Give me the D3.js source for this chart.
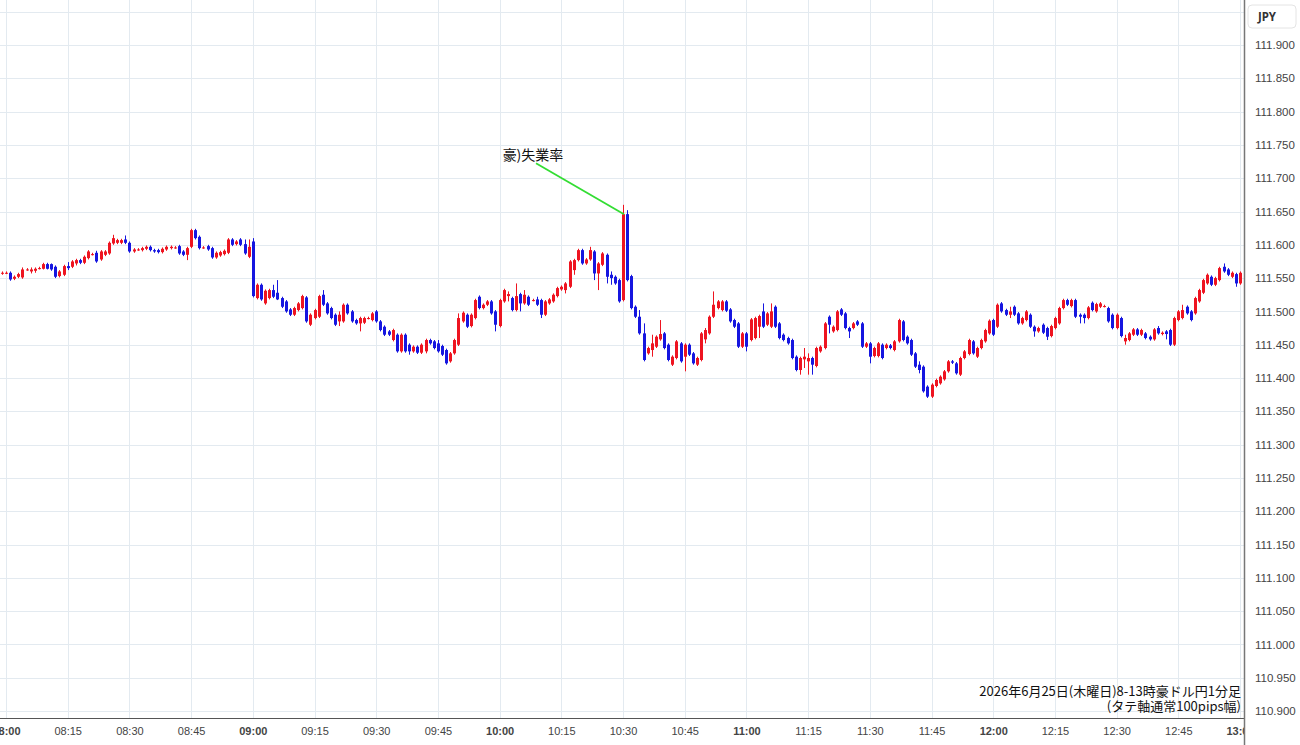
<!DOCTYPE html>
<html>
<head>
<meta charset="utf-8">
<script src="https://cdn.jsdelivr.net/npm/d3@7"></script>
<style>
  body { margin: 0; background: #fff; }
  svg { display: block; font-family: "Noto Sans", "Noto Sans CJK JP", sans-serif; }
</style>
</head>
<body>
<script>
// AUD/JPY 1-minute candles, 2026-06-25 07:59 .. 13:00
const firstCandle = "2026-06-25 07:59";

const open = [
  111.557,111.558,111.558,111.549,111.552,111.551,111.563,111.560,111.561,111.565,
  111.564,111.571,111.571,111.567,111.553,111.555,111.568,111.567,111.572,111.577,
  111.573,111.580,111.586,111.588,111.578,111.585,111.587,111.602,111.603,111.603,
  111.608,111.603,111.590,111.593,111.592,111.594,111.597,111.592,111.592,111.589,
  111.593,111.595,111.596,111.598,111.590,111.585,111.597,111.622,111.612,111.596,
  111.598,111.595,111.581,111.584,111.586,111.588,111.608,111.601,111.608,111.601,
  111.582,111.605,111.520,111.540,111.512,111.520,111.532,111.528,111.520,111.515,
  111.503,111.495,111.502,111.505,111.521,111.480,111.490,111.492,111.525,111.512,
  111.505,111.495,111.485,111.485,111.510,111.500,111.487,111.482,111.483,111.490,
  111.487,111.500,111.485,111.477,111.470,111.457,111.465,111.440,111.465,111.450,
  111.440,111.447,111.438,111.440,111.457,111.455,111.452,111.448,111.442,111.425,
  111.437,111.450,111.485,111.495,111.478,111.490,111.522,111.505,111.510,111.515,
  111.500,111.478,111.515,111.523,111.520,111.502,111.526,111.512,111.522,111.517,
  111.518,111.517,111.495,111.512,111.515,111.523,111.533,111.532,111.537,111.562,
  111.577,111.592,111.572,111.578,111.590,111.557,111.570,111.585,111.555,111.552,
  111.547,111.517,111.646,111.553,111.507,111.492,111.467,111.437,111.442,111.447,
  111.458,111.467,111.450,111.420,111.430,111.452,111.432,111.450,111.437,111.420,
  111.427,111.458,111.467,111.492,111.505,111.502,111.515,111.503,111.487,111.482,
  111.447,111.467,111.457,111.460,111.477,111.500,111.480,111.477,111.507,111.482,
  111.465,111.460,111.457,111.432,111.412,111.428,111.425,111.430,111.418,111.440,
  111.445,111.492,111.470,111.472,111.503,111.497,111.475,111.475,111.485,111.482,
  111.447,111.452,111.433,111.433,111.450,111.445,111.449,111.442,111.455,111.485,
  111.462,111.457,111.437,111.420,111.417,111.387,111.372,111.388,111.392,111.398,
  111.410,111.425,111.422,111.405,111.430,111.436,111.455,111.432,111.445,111.455,
  111.467,111.487,111.477,111.512,111.502,111.495,111.507,111.497,111.482,111.487,
  111.495,111.477,111.470,111.480,111.475,111.463,111.475,111.482,111.505,111.517,
  111.508,111.517,111.495,111.495,111.490,111.513,111.500,111.507,111.508,111.505,
  111.495,111.475,111.490,111.455,111.457,111.465,111.473,111.465,111.467,111.462,
  111.458,111.475,111.466,111.470,111.472,111.450,111.487,111.490,111.507,111.500,
  111.497,111.515,111.528,111.542,111.552,111.540,111.547,111.567,111.563,111.552,
  111.556,111.542
];

const high = [
  111.560,111.560,111.560,111.554,111.558,111.566,111.565,111.566,111.566,111.567,
  111.573,111.573,111.572,111.569,111.562,111.570,111.574,111.577,111.579,111.579,
  111.584,111.592,111.588,111.591,111.592,111.592,111.605,111.615,111.609,111.609,
  111.614,111.605,111.595,111.595,111.597,111.599,111.599,111.594,111.594,111.596,
  111.599,111.599,111.598,111.600,111.592,111.597,111.624,111.624,111.614,111.598,
  111.600,111.597,111.590,111.591,111.593,111.610,111.610,111.607,111.610,111.608,
  111.608,111.610,111.542,111.542,111.533,111.534,111.540,111.547,111.522,111.517,
  111.505,111.507,111.514,111.525,111.523,111.497,111.504,111.525,111.532,111.514,
  111.507,111.497,111.500,111.512,111.512,111.502,111.489,111.492,111.492,111.492,
  111.499,111.502,111.487,111.479,111.472,111.474,111.467,111.467,111.467,111.452,
  111.449,111.449,111.452,111.459,111.459,111.457,111.457,111.450,111.444,111.439,
  111.459,111.497,111.500,111.497,111.497,111.519,111.524,111.512,111.517,111.517,
  111.502,111.519,111.534,111.530,111.522,111.542,111.528,111.532,111.524,111.519,
  111.522,111.519,111.517,111.520,111.527,111.537,111.539,111.544,111.577,111.579,
  111.594,111.594,111.580,111.597,111.592,111.574,111.589,111.587,111.560,111.554,
  111.549,111.660,111.652,111.555,111.509,111.502,111.482,111.447,111.465,111.464,
  111.487,111.469,111.452,111.434,111.457,111.454,111.452,111.452,111.439,111.432,
  111.469,111.475,111.494,111.530,111.517,111.517,111.517,111.505,111.489,111.484,
  111.469,111.469,111.490,111.492,111.495,111.512,111.499,111.512,111.509,111.484,
  111.467,111.462,111.459,111.434,111.432,111.445,111.437,111.432,111.447,111.449,
  111.484,111.494,111.479,111.502,111.505,111.499,111.477,111.484,111.487,111.484,
  111.454,111.454,111.447,111.454,111.452,111.452,111.451,111.457,111.489,111.487,
  111.464,111.459,111.439,111.425,111.419,111.389,111.392,111.399,111.404,111.412,
  111.427,111.427,111.424,111.432,111.442,111.459,111.457,111.447,111.459,111.474,
  111.488,111.489,111.512,111.514,111.504,111.507,111.509,111.499,111.492,111.502,
  111.497,111.479,111.477,111.482,111.477,111.480,111.492,111.507,111.519,111.519,
  111.519,111.519,111.497,111.497,111.508,111.515,111.513,111.514,111.510,111.507,
  111.497,111.497,111.492,111.465,111.469,111.475,111.475,111.474,111.469,111.464,
  111.475,111.478,111.470,111.472,111.474,111.492,111.502,111.510,111.509,111.502,
  111.522,111.534,111.549,111.557,111.554,111.552,111.567,111.572,111.565,111.560,
  111.558,111.560
];

const low = [
  111.555,111.556,111.546,111.547,111.550,111.549,111.561,111.557,111.558,111.563,
  111.563,111.563,111.561,111.550,111.551,111.553,111.562,111.565,111.569,111.571,
  111.571,111.578,111.584,111.573,111.576,111.583,111.585,111.600,111.601,111.601,
  111.601,111.588,111.588,111.591,111.590,111.592,111.590,111.588,111.587,111.587,
  111.591,111.593,111.594,111.585,111.583,111.577,111.595,111.608,111.593,111.594,
  111.591,111.579,111.579,111.582,111.584,111.586,111.598,111.599,111.598,111.585,
  111.580,111.521,111.518,111.516,111.510,111.518,111.520,111.517,111.505,111.498,
  111.493,111.493,111.500,111.503,111.483,111.478,111.488,111.490,111.508,111.495,
  111.488,111.478,111.478,111.483,111.495,111.483,111.480,111.470,111.481,111.488,
  111.485,111.483,111.470,111.463,111.463,111.455,111.438,111.438,111.438,111.435,
  111.438,111.436,111.436,111.437,111.450,111.443,111.438,111.433,111.420,111.423,
  111.435,111.448,111.483,111.475,111.476,111.488,111.503,111.503,111.508,111.495,
  111.470,111.476,111.513,111.515,111.500,111.500,111.500,111.510,111.508,111.515,
  111.508,111.490,111.493,111.510,111.513,111.521,111.531,111.527,111.535,111.555,
  111.575,111.570,111.570,111.576,111.547,111.532,111.568,111.542,111.540,111.540,
  111.513,111.515,111.545,111.503,111.490,111.465,111.425,111.435,111.432,111.445,
  111.456,111.443,111.425,111.418,111.428,111.423,111.410,111.433,111.420,111.418,
  111.425,111.452,111.465,111.490,111.503,111.500,111.499,111.483,111.475,111.445,
  111.445,111.440,111.455,111.458,111.460,111.475,111.478,111.475,111.475,111.458,
  111.455,111.450,111.428,111.410,111.405,111.415,111.405,111.405,111.416,111.438,
  111.443,111.467,111.468,111.470,111.493,111.473,111.460,111.473,111.478,111.445,
  111.445,111.422,111.431,111.431,111.428,111.443,111.443,111.440,111.453,111.455,
  111.450,111.433,111.415,111.407,111.378,111.370,111.370,111.386,111.390,111.396,
  111.408,111.421,111.405,111.403,111.428,111.434,111.435,111.430,111.443,111.453,
  111.465,111.463,111.475,111.498,111.493,111.490,111.493,111.480,111.480,111.485,
  111.475,111.462,111.468,111.466,111.457,111.461,111.473,111.480,111.503,111.508,
  111.506,111.490,111.482,111.482,111.488,111.500,111.498,111.505,111.506,111.483,
  111.473,111.473,111.461,111.450,111.455,111.463,111.463,111.463,111.458,111.456,
  111.456,111.465,111.464,111.458,111.448,111.448,111.485,111.488,111.495,111.485,
  111.495,111.513,111.526,111.540,111.538,111.538,111.545,111.558,111.553,111.550,
  111.537,111.540
];

const close = [
  111.558,111.558,111.548,111.552,111.556,111.563,111.563,111.563,111.564,111.565,
  111.571,111.564,111.563,111.552,111.560,111.568,111.565,111.575,111.577,111.573,
  111.582,111.590,111.586,111.575,111.590,111.590,111.603,111.610,111.607,111.607,
  111.603,111.590,111.593,111.593,111.595,111.597,111.592,111.590,111.589,111.594,
  111.597,111.597,111.596,111.587,111.585,111.595,111.622,111.610,111.595,111.596,
  111.593,111.581,111.588,111.589,111.591,111.608,111.600,111.605,111.600,111.587,
  111.597,111.523,111.540,111.518,111.531,111.532,111.522,111.518,111.507,111.500,
  111.495,111.505,111.512,111.523,111.485,111.495,111.502,111.523,111.510,111.497,
  111.490,111.480,111.495,111.510,111.497,111.485,111.482,111.490,111.490,111.490,
  111.497,111.485,111.472,111.465,111.465,111.472,111.440,111.465,111.440,111.440,
  111.447,111.438,111.450,111.457,111.452,111.445,111.440,111.435,111.422,111.437,
  111.457,111.490,111.498,111.477,111.495,111.517,111.505,111.510,111.515,111.497,
  111.480,111.517,111.532,111.526,111.502,111.523,111.512,111.525,111.510,111.517,
  111.510,111.495,111.515,111.518,111.525,111.535,111.537,111.542,111.575,111.577,
  111.592,111.572,111.578,111.592,111.557,111.572,111.587,111.552,111.550,111.542,
  111.515,111.646,111.547,111.505,111.492,111.467,111.427,111.445,111.452,111.462,
  111.466,111.445,111.427,111.432,111.455,111.425,111.450,111.435,111.422,111.430,
  111.467,111.472,111.492,111.510,111.515,111.515,111.501,111.485,111.477,111.447,
  111.467,111.447,111.488,111.490,111.493,111.477,111.497,111.500,111.477,111.460,
  111.457,111.452,111.430,111.412,111.430,111.432,111.430,111.420,111.445,111.447,
  111.482,111.480,111.477,111.500,111.495,111.475,111.470,111.482,111.480,111.447,
  111.452,111.432,111.445,111.452,111.430,111.450,111.445,111.455,111.487,111.457,
  111.452,111.435,111.417,111.412,111.380,111.372,111.390,111.397,111.402,111.410,
  111.425,111.423,111.407,111.430,111.440,111.457,111.437,111.445,111.457,111.472,
  111.486,111.465,111.510,111.500,111.495,111.500,111.495,111.482,111.490,111.500,
  111.477,111.470,111.475,111.468,111.462,111.478,111.490,111.505,111.517,111.510,
  111.517,111.492,111.492,111.490,111.506,111.502,111.511,111.512,111.508,111.485,
  111.475,111.495,111.463,111.460,111.467,111.473,111.465,111.472,111.460,111.458,
  111.473,111.467,111.468,111.466,111.450,111.490,111.500,111.502,111.497,111.487,
  111.520,111.532,111.547,111.555,111.540,111.550,111.565,111.560,111.555,111.558,
  111.542,111.558
];

const timeTicks = ["08:00","08:15","08:30","08:45","09:00","09:15","09:30","09:45","10:00",
  "10:15","10:30","10:45","11:00","11:15","11:30","11:45","12:00","12:15","12:30","12:45","13:00"];
const priceTicks = [111.9,111.85,111.8,111.75,111.7,111.65,111.6,111.55,111.5,111.45,
  111.4,111.35,111.3,111.25,111.2,111.15,111.1,111.05,111.0,110.95,110.9];
const gridPrices = [111.95].concat(priceTicks);

const events = [{time: "10:30", label: "豪)失業率"}];
const titleLines = ["2026年6月25日(木曜日)8-13時豪ドル円1分足", "(タテ軸通常100pips幅)"];
const currency = "JPY";

const Width = 1300;
const Height = 745;
const plotRight = 1244;
const axisY = 718;

const upColor = "#ee1420";
const downColor = "#1616e0";
const gridColor = "#e3eaf0";

const parseTime = d3.timeParse("%Y-%m-%d %H:%M");
const day = s => parseTime("2026-06-25 " + s);
const t0 = parseTime(firstCandle);

const candles = open.map((o, i) => ({
  t: d3.timeMinute.offset(t0, i),
  o: o, h: high[i], l: low[i], c: close[i]
}));

const xScale = d3.scaleTime()
  .domain([day("08:00"), day("13:00")])
  .range([6, 1240]);

const yScale = d3.scaleLinear()
  .domain([110.9, 111.9])
  .range([711, 45]);

const svg = d3.select("body").append("svg")
  .attr("width", Width)
  .attr("height", Height);

svg.append("rect").attr("width", Width).attr("height", Height).attr("fill", "#fff");

const defs = svg.append("defs");
defs.append("clipPath").attr("id", "plotClip")
  .append("rect").attr("x", 0).attr("y", 0).attr("width", plotRight).attr("height", axisY);
defs.append("clipPath").attr("id", "xClip")
  .append("rect").attr("x", 0).attr("y", axisY).attr("width", plotRight).attr("height", Height - axisY);

const plot = svg.append("g").attr("clip-path", "url(#plotClip)");

// grid
plot.selectAll("line.hgrid")
  .data(gridPrices)
  .join("line")
    .attr("class", "hgrid")
    .attr("x1", 0).attr("x2", plotRight)
    .attr("y1", d => Math.round(yScale(d)) + 0.5)
    .attr("y2", d => Math.round(yScale(d)) + 0.5)
    .attr("stroke", gridColor);

plot.selectAll("line.vgrid")
  .data(timeTicks)
  .join("line")
    .attr("class", "vgrid")
    .attr("y1", 0).attr("y2", axisY)
    .attr("x1", d => Math.round(xScale(day(d))) + 0.5)
    .attr("x2", d => Math.round(xScale(day(d))) + 0.5)
    .attr("stroke", gridColor);

// candles
const colorOf = d => d.c >= d.o ? upColor : downColor;
const cx = d => Math.round(xScale(d.t));

plot.selectAll("line.wick")
  .data(candles)
  .join("line")
    .attr("class", "wick")
    .attr("x1", d => cx(d) + 0.5)
    .attr("x2", d => cx(d) + 0.5)
    .attr("y1", d => yScale(d.h))
    .attr("y2", d => yScale(d.l))
    .attr("stroke", colorOf)
    .attr("stroke-width", 1);

plot.selectAll("rect.body")
  .data(candles)
  .join("rect")
    .attr("class", "body")
    .attr("x", d => cx(d) - 1)
    .attr("width", 3)
    .attr("y", d => yScale(Math.max(d.o, d.c)))
    .attr("height", d => Math.max(1, Math.abs(yScale(d.o) - yScale(d.c))))
    .attr("fill", colorOf);

// event annotation
events.forEach(ev => {
  const c = candles.find(d => +d.t === +day(ev.time));
  const px = cx(c) + 1, py = yScale(Math.max(c.o, c.c));
  svg.append("line")
    .attr("x1", px - 88).attr("y1", py - 51)
    .attr("x2", px).attr("y2", py)
    .attr("stroke", "#33dd33")
    .attr("stroke-width", 1.8);
  svg.append("text")
    .attr("x", px - 91).attr("y", py - 54)
    .attr("text-anchor", "middle")
    .style("font-family", "'Noto Sans CJK JP', sans-serif")
    .style("font-size", "14px")
    .attr("fill", "#111")
    .text(ev.label);
});

// caption bottom right
svg.append("g")
  .selectAll("text")
  .data(titleLines)
  .join("text")
    .attr("x", 1241)
    .attr("y", (d, i) => 696 + i * 15)
    .attr("text-anchor", "end")
    .style("font-family", "'Noto Sans CJK JP', sans-serif")
    .style("font-size", "13px")
    .attr("fill", "#111")
    .text(d => d);

// x axis
const xAxis = d3.axisBottom(xScale)
  .tickValues(timeTicks.map(day))
  .tickSize(0)
  .tickPadding(9)
  .tickFormat(d3.timeFormat("%H:%M"));

const xAxisG = svg.append("g")
  .attr("clip-path", "url(#xClip)")
  .append("g")
  .attr("transform", `translate(0, ${axisY})`)
  .call(xAxis);
xAxisG.select(".domain").remove();
xAxisG.selectAll("text")
  .style("font-size", "11px")
  .style("font-weight", d => d.getMinutes() === 0 ? "bold" : "normal")
  .attr("fill", "#444");

svg.append("line")
  .attr("x1", 0).attr("x2", plotRight)
  .attr("y1", axisY + 0.5).attr("y2", axisY + 0.5)
  .attr("stroke", "#555");

// y axis
const yAxis = d3.axisRight(yScale)
  .tickValues(priceTicks)
  .tickSize(0)
  .tickPadding(11)
  .tickFormat(d3.format(".3f"));

const yAxisG = svg.append("g")
  .attr("transform", `translate(${plotRight}, 0)`)
  .call(yAxis);
yAxisG.select(".domain").remove();
yAxisG.selectAll("text")
  .style("font-size", "11.5px")
  .attr("fill", "#444");

svg.append("line")
  .attr("x1", plotRight + 0.5).attr("x2", plotRight + 0.5)
  .attr("y1", 0).attr("y2", Height)
  .attr("stroke", "#777")
  .attr("stroke-width", 1.5);

// currency box
const box = svg.append("g").attr("transform", "translate(1248, 5)");
box.append("rect")
  .attr("width", 48).attr("height", 23)
  .attr("rx", 4)
  .attr("fill", "#fff")
  .attr("stroke", "#e4e4e4");
box.append("text")
  .attr("x", 19).attr("y", 16)
  .attr("text-anchor", "middle")
  .style("font-size", "11.5px")
  .style("font-weight", "bold")
  .attr("fill", "#333")
  .text(currency);
</script>
</body>
</html>
